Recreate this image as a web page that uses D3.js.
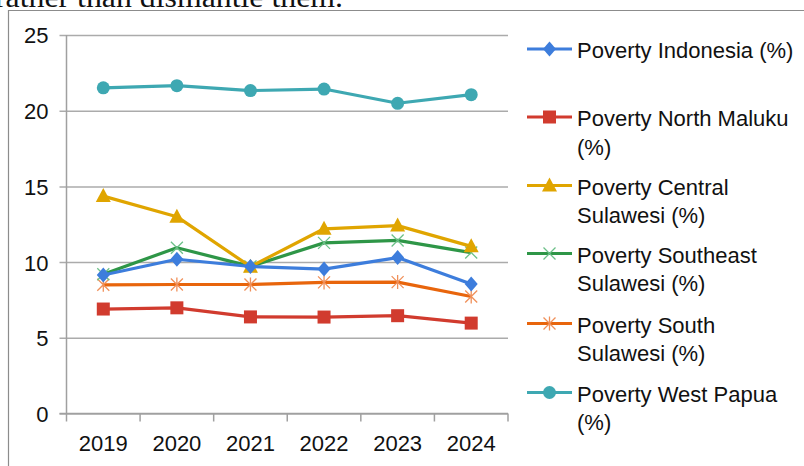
<!DOCTYPE html>
<html>
<head>
<meta charset="utf-8">
<script src="https://cdn.jsdelivr.net/npm/d3@7"></script>
<style>
  html, body { margin: 0; padding: 0; background: #fff; }
  svg { display: block; }
</style>
</head>
<body>
<svg id="chart" width="804" height="466"></svg>
<script>
// Poverty rate (%) by year, Indonesia and selected eastern provinces
const years = ["2019", "2020", "2021", "2022", "2023", "2024"];
const povertyIndonesia   = [9.15, 10.19, 9.71, 9.54, 10.30, 8.55];
const povertyNorthMaluku = [6.90, 6.98, 6.38, 6.37, 6.46, 5.97];
const povertyCentralSul  = [14.36, 13.00, 9.70, 12.20, 12.41, 11.04];
const povertySoutheastSul= [9.20, 10.95, 9.72, 11.27, 11.43, 10.63];
const povertySouthSul    = [8.50, 8.52, 8.52, 8.66, 8.68, 7.73];
const povertyWestPapua   = [21.51, 21.65, 21.33, 21.43, 20.49, 21.06];
const yTicks = [0, 5, 10, 15, 20, 25];

const series = [
  { name: ["Poverty Indonesia (%)"], values: povertyIndonesia, color: "#3d7ddc", marker: "diamond" },
  { name: ["Poverty North Maluku", "(%)"], values: povertyNorthMaluku, color: "#d13b2e", marker: "square" },
  { name: ["Poverty Central", "Sulawesi (%)"], values: povertyCentralSul, color: "#e0a500", marker: "triangle" },
  { name: ["Poverty Southeast", "Sulawesi (%)"], values: povertySoutheastSul, color: "#2e9647", marker: "cross", light: "#6cc088" },
  { name: ["Poverty South", "Sulawesi (%)"], values: povertySouthSul, color: "#e8650c", marker: "asterisk", light: "#f0905a" },
  { name: ["Poverty West Papua", "(%)"], values: povertyWestPapua, color: "#3ea8b2", marker: "circle" }
];

const svg = d3.select("#chart");
const font = "'Liberation Sans', Arial, sans-serif";

// Running text above the figure frame
svg.append("text")
  .attr("x", -5).attr("y", 7)
  .attr("font-family", "'Liberation Serif', 'Times New Roman', serif")
  .attr("font-size", 30)
  .attr("textLength", 348).attr("lengthAdjust", "spacingAndGlyphs")
  .attr("fill", "#111")
  .text("rather than dismantle them.");

// Figure frame (top and left edges)
svg.append("path")
  .attr("d", "M8.5,466 L8.5,10.5 L804,10.5")
  .attr("fill", "none").attr("stroke", "#8c8c8c").attr("stroke-width", 1.2);

const plot = { left: 66.5, right: 508, top: 35, bottom: 413.5 };

const x = d3.scaleBand().domain(years).range([plot.left, plot.right]);
const y = d3.scaleLinear().domain([0, 25]).range([plot.bottom, plot.top]);

// Horizontal gridlines with tick stubs
const yAxis = d3.axisLeft(y).tickValues(yTicks).tickSize(-(plot.right - plot.left)).tickPadding(0);
const gy = svg.append("g").attr("transform", `translate(${plot.left},0)`).call(yAxis);
gy.select(".domain").remove();
gy.selectAll(".tick line").attr("x1", -7).attr("stroke", "#ababab").attr("stroke-width", 1.5);
gy.selectAll(".tick text")
  .attr("x", -18).attr("dy", "0.36em")
  .attr("font-family", font).attr("font-size", 22).attr("fill", "#111");

// Vertical axis line
svg.append("line")
  .attr("x1", plot.left).attr("x2", plot.left)
  .attr("y1", plot.top).attr("y2", plot.bottom)
  .attr("stroke", "#a0a0a0").attr("stroke-width", 1.5);

// Category axis
const xAxis = d3.axisBottom(x).tickSize(0).tickPadding(0);
const gx = svg.append("g").attr("transform", `translate(0,${plot.bottom})`).call(xAxis);
gx.select(".domain").remove();
gx.selectAll(".tick text")
  .attr("y", 37).attr("dy", 0)
  .attr("font-family", font).attr("font-size", 22).attr("fill", "#111");
// Tick marks at band boundaries
const bounds = years.map(d => x(d)).concat([x(years[years.length - 1]) + x.bandwidth()]);
svg.append("g").selectAll("line").data(bounds).join("line")
  .attr("x1", d => d).attr("x2", d => d)
  .attr("y1", plot.bottom).attr("y2", plot.bottom + 8)
  .attr("stroke", "#a0a0a0").attr("stroke-width", 1.5);
svg.append("line")
  .attr("x1", plot.left - 7).attr("x2", plot.right)
  .attr("y1", plot.bottom).attr("y2", plot.bottom)
  .attr("stroke", "#a0a0a0").attr("stroke-width", 1.5);

// Marker drawing
function drawMarker(g, s, cx, cy) {
  const m = s.marker;
  if (m === "diamond") {
    g.append("path").attr("d", `M${cx},${cy - 7.5}L${cx + 6.5},${cy}L${cx},${cy + 7.5}L${cx - 6.5},${cy}Z`)
      .attr("fill", s.color);
  } else if (m === "square") {
    g.append("rect").attr("x", cx - 6.5).attr("y", cy - 6.5).attr("width", 13).attr("height", 13)
      .attr("fill", s.color);
  } else if (m === "triangle") {
    g.append("path").attr("d", `M${cx},${cy - 8}L${cx + 7.5},${cy + 6}L${cx - 7.5},${cy + 6}Z`)
      .attr("fill", s.color);
  } else if (m === "circle") {
    g.append("circle").attr("cx", cx).attr("cy", cy).attr("r", 6.5).attr("fill", s.color);
  } else if (m === "cross") {
    const r = 6;
    g.append("path").attr("d", `M${cx - r},${cy - r}L${cx + r},${cy + r}M${cx - r},${cy + r}L${cx + r},${cy - r}`)
      .attr("stroke", s.light).attr("stroke-width", 1.3).attr("fill", "none");
  } else if (m === "asterisk") {
    const r = 6;
    g.append("path").attr("d",
      `M${cx - r},${cy - r}L${cx + r},${cy + r}M${cx - r},${cy + r}L${cx + r},${cy - r}M${cx},${cy - r - 1}L${cx},${cy + r + 1}`)
      .attr("stroke", s.light).attr("stroke-width", 1.3).attr("fill", "none");
  }
}

const line = d3.line()
  .x((d, i) => x(years[i]) + x.bandwidth() / 2)
  .y(d => y(d));

// Draw in reverse legend order so Indonesia sits on top
const drawOrder = [5, 4, 3, 2, 0, 1];
drawOrder.forEach(k => {
  const s = series[k];
  const g = svg.append("g");
  g.append("path").datum(s.values).attr("d", line)
    .attr("fill", "none").attr("stroke", s.color).attr("stroke-width", 3.2)
    .attr("stroke-linejoin", "round");
  s.values.forEach((v, i) => drawMarker(g, s, x(years[i]) + x.bandwidth() / 2, y(v)));
});

// Legend
const legendY = [49, 117, 185.5, 253.5, 323.5, 392.5];
series.forEach((s, k) => {
  const g = svg.append("g");
  const cy = legendY[k];
  g.append("line").attr("x1", 527).attr("x2", 572).attr("y1", cy).attr("y2", cy)
    .attr("stroke", s.color).attr("stroke-width", 3.2);
  drawMarker(g, s, 549.5, cy);
  const t = g.append("text").attr("font-family", font).attr("font-size", 22).attr("fill", "#111");
  s.name.forEach((ln, j) => {
    t.append("tspan").attr("x", 577).attr("y", cy + 9 + j * 28.5).text(ln);
  });
});
</script>
</body>
</html>
